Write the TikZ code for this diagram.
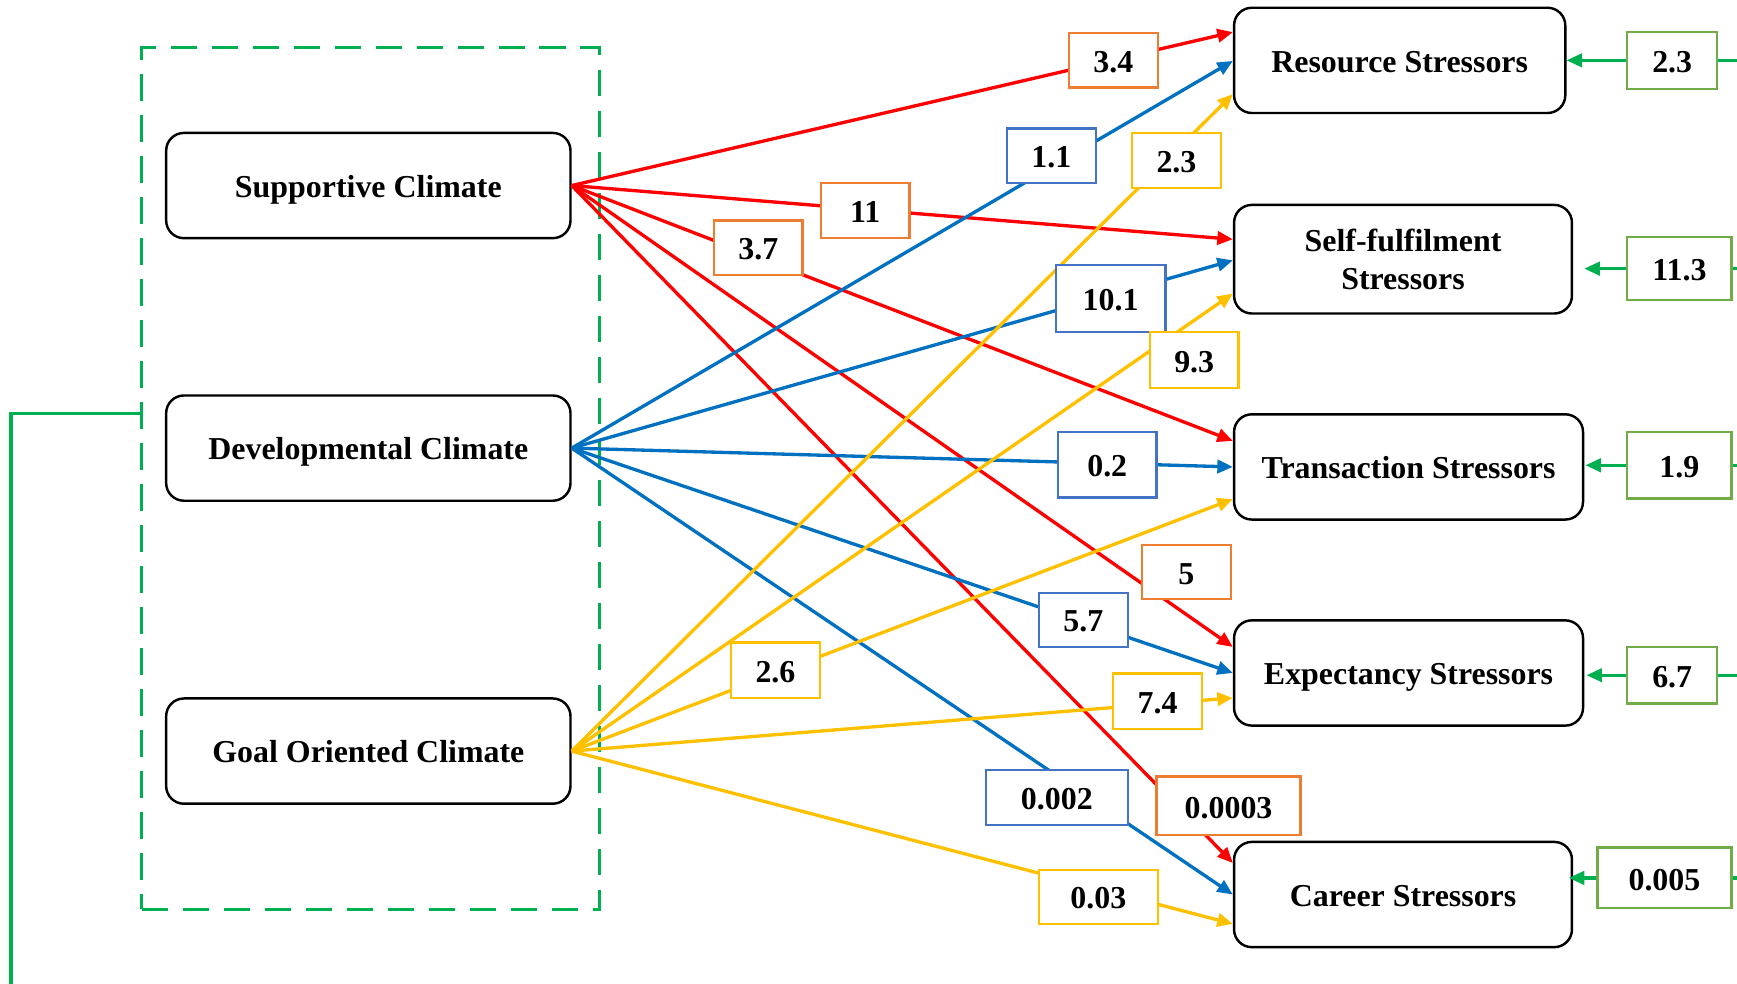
\documentclass[tikz,border=0pt]{standalone}
\usepackage{fontspec}
\setmainfont{Liberation Serif}
\usetikzlibrary{arrows.meta,calc}

\definecolor{edgeRed}{HTML}{FF0000}
\definecolor{edgeBlue}{HTML}{0070C0}
\definecolor{edgeGold}{HTML}{FFC000}
\definecolor{loopGreen}{HTML}{00B050}
\definecolor{tagOrange}{HTML}{ED7D31}
\definecolor{tagBlue}{HTML}{4472C4}
\definecolor{tagGreen}{HTML}{70AD47}

\begin{document}
\begin{tikzpicture}[x=0.5pt,y=-0.5pt,
  font=\fontsize{14.4}{17}\selectfont\bfseries,
  climate/.style={draw=black, line width=1.1pt, rounded corners=8pt, fill=white,
    align=center, inner sep=0pt, minimum width=182.5pt, minimum height=47.5pt},
  oneline/.style={text height=12.6pt, text depth=2pt},
  stressor/.style={climate},
  tag/.style={draw, line width=1pt, fill=white, inner sep=0pt,
    text height=11pt, text depth=0pt,
    minimum width=40pt, minimum height=24.5pt},
  link/.style={line width=1.5pt, -{Triangle[length=7pt,width=6pt]}},
  loopline/.style={draw=loopGreen, line width=1.5pt},
  frame/.style={draw=loopGreen, line width=1.5pt, dash pattern=on 12pt off 6.5pt,
    inner sep=0pt, outer sep=0pt},
]
\useasboundingbox (0,0) rectangle (1568,888);

% group frame around the three climates
\node[frame, minimum width=206.5pt, minimum height=389pt] (grp) at (334.5,432) {};

% climate dimensions
\node[climate, oneline] (sup)  at (332.5,167.5) {Supportive Climate};
\node[climate, oneline] (dev)  at (332.5,404.5) {Developmental Climate};
\node[climate, oneline] (goal) at (332.5,678)   {Goal Oriented Climate};

% stressor dimensions
\node[stressor, oneline, minimum width=149.5pt] (res)  at (1263.5,54.5) {Resource Stressors};
\node[stressor, minimum width=152.5pt, minimum height=49pt] (self) at (1266.5,234) {Self-fulfilment\\Stressors};
\node[stressor, oneline, minimum width=157.5pt] (tra)  at (1271.5,421.5) {Transaction Stressors};
\node[stressor, oneline, minimum width=157.5pt] (exp)  at (1271.5,607.5) {Expectancy Stressors};
\node[stressor, oneline, minimum width=152.5pt] (car)  at (1266.5,807.5) {Career Stressors};

% supportive climate paths
\draw[link, edgeRed] (sup.east) -- ($(res.west)+(0,-25.5)$);
\draw[link, edgeRed] (sup.east) -- ($(self.west)+(0,-18)$);
\draw[link, edgeRed] (sup.east) -- ($(tra.west)+(0,-23.5)$);
\draw[link, edgeRed] (sup.east) -- ($(exp.west)+(0,-23.5)$);
\draw[link, edgeRed] (sup.east) -- ($(car.west)+(0,-28.5)$);

% developmental climate paths
\draw[link, edgeBlue] (dev.east) -- ($(res.west)+(0,0.5)$);
\draw[link, edgeBlue] (dev.east) -- ($(self.west)+(0,1)$);
\draw[link, edgeBlue] (dev.east) -- (tra.west);
\draw[link, edgeBlue] (dev.east) -- (exp.west);
\draw[link, edgeBlue] (dev.east) -- (car.west);

% goal oriented climate paths
\draw[link, edgeGold] (goal.east) -- ($(res.west)+(0,30.5)$);
\draw[link, edgeGold] (goal.east) -- ($(self.west)+(0,31)$);
\draw[link, edgeGold] (goal.east) -- ($(tra.west)+(0,29)$);
\draw[link, edgeGold] (goal.east) -- ($(exp.west)+(0,22.5)$);
\draw[link, edgeGold] (goal.east) -- ($(car.west)+(0,26.5)$);

% path values
\node[tag, draw=tagOrange] (r1) at (1005,54.5)  {3.4};
\node[tag, draw=tagOrange, minimum height=25pt] (r2) at (781,190) {11};
\node[tag, draw=tagOrange] (r3) at (684.5,223.5) {3.7};
\node[tag, draw=tagOrange] (r4) at (1071,516.5)  {5};
\node[tag, draw=tagOrange, minimum width=65pt, minimum height=26.5pt] (r5) at (1109,727.5) {0.0003};

\node[tag, draw=tagBlue] (b1) at (949,140.5) {1.1};
\node[tag, draw=tagBlue, minimum width=49.5pt, minimum height=30.5pt] (b2) at (1002.5,269.5) {10.1};
\node[tag, draw=tagBlue, minimum width=44.5pt, minimum height=29.5pt] (b3) at (999.5,419.5) {0.2};
\node[tag, draw=tagBlue] (b4) at (978,559.5) {5.7};
\node[tag, draw=tagBlue, minimum width=64pt, minimum height=25pt] (b5) at (954,720) {0.002};

\node[tag, draw=edgeGold, minimum height=25pt] (y1) at (1062,145) {2.3};
\node[tag, draw=edgeGold, minimum height=25pt] (y2) at (1078,325) {9.3};
\node[tag, draw=edgeGold, minimum height=25pt] (y3) at (700,605)  {2.6};
\node[tag, draw=edgeGold, minimum height=25pt] (y4) at (1045,633) {7.4};
\node[tag, draw=edgeGold, minimum width=53.5pt] (y5) at (991.5,809.5) {0.03};

% values feeding the stressors
\node[tag, draw=tagGreen, minimum width=40.5pt, minimum height=25.5pt] (g1) at (1509.5,54.5) {2.3};
\node[tag, draw=tagGreen, minimum width=47pt, minimum height=28.5pt] (g2) at (1516,242.5) {11.3};
\node[tag, draw=tagGreen, minimum width=47pt, minimum height=30pt] (g3) at (1516,420) {1.9};
\node[tag, draw=tagGreen, minimum width=40.5pt, minimum height=25.5pt] (g4) at (1509.5,609.5) {6.7};
\node[tag, draw=tagGreen, minimum width=60.5pt, minimum height=27.5pt] (g5) at (1502.5,792.5) {0.005};

\draw[link, loopGreen] (g1.west) -- (g1.west -| res.east);
\draw[link, loopGreen] (g2.west) -- ($(g2.west -| self.east)+(10,0)$);
\draw[link, loopGreen] (g3.west) -- ($(g3.west -| tra.east)+(1,0)$);
\draw[link, loopGreen] (g4.west) -- ($(g4.west -| exp.east)+(2,0)$);
\draw[link, loopGreen] (g5.west) -- ($(g5.west -| car.east)+(-4,0)$);

% feedback line leaving the page on the right
\coordinate (rim) at (1572,0);
\foreach \g in {g1,g2,g3,g4,g5}
  \draw[loopline] (\g.east) -- (\g.east -| rim);

% feedback line on the left
\coordinate (bend) at (10,373);
\coordinate (tail) at (10,892);
\draw[loopline] (grp.west |- bend) -- (bend) -- (tail);
\end{tikzpicture}
\end{document}
